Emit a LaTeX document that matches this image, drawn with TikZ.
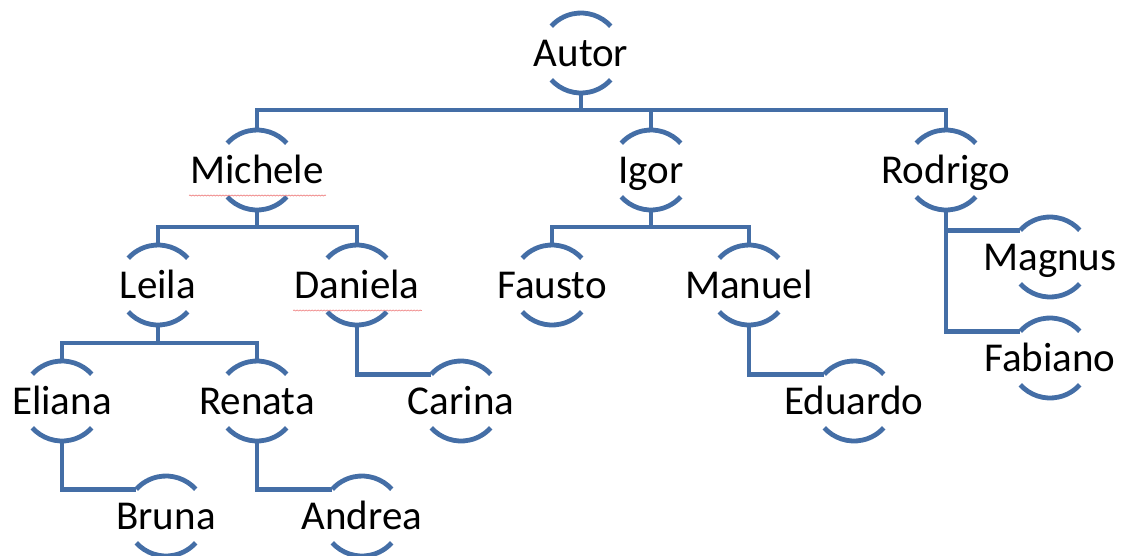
\documentclass[tikz,border=0pt]{standalone}
\usepackage{fontspec}
\setmainfont{Carlito}
\usetikzlibrary{calc,decorations.pathmorphing}
\definecolor{ln}{RGB}{68,110,166}
\definecolor{sq}{RGB}{240,140,140}
\begin{document}
\begin{tikzpicture}[x=1pt,y=-1pt,
 person/.style={inner sep=0pt, text height=37pt, text depth=10pt, font=\fontsize{41}{49}\selectfont},
 conn/.style={draw=ln, line width=4.6pt, line join=miter},
 ring/.style={draw=ln, line width=4.8pt},
 squig/.style={draw=sq, line width=0.8pt, decorate, decoration={snake, amplitude=0.5pt, segment length=3pt}}]
\useasboundingbox (0,0) rectangle (1122,555);

\node[person] (autor) at (581,53) {Autor};
\node[person] (michele) at (257,170) {Michele};
\node[person] (igor) at (651,170) {Igor};
\node[person] (rodrigo) at (946,170) {Rodrigo};
\node[person] (leila) at (158,285) {Leila};
\node[person] (daniela) at (357,285) {Daniela};
\node[person] (fausto) at (552,285) {Fausto};
\node[person] (manuel) at (749,285) {Manuel};
\node[person] (magnus) at (1050,257) {Magnus};
\node[person] (fabiano) at (1050,358) {Fabiano};
\node[person] (eliana) at (62,401) {Eliana};
\node[person] (renata) at (257,401) {Renata};
\node[person] (carina) at (461,401) {Carina};
\node[person] (eduardo) at (854,401) {Eduardo};
\node[person] (bruna) at (166,516) {Bruna};
\node[person] (andrea) at (362,516) {Andrea};

\foreach \n in {autor,michele,igor,rodrigo,leila,daniela,fausto,manuel,magnus,fabiano,eliana,renata,carina,eduardo,bruna,andrea}{
  \draw[ring] ([shift={(42:40pt)}]\n.center) arc[start angle=42,end angle=138,radius=40pt];
  \draw[ring] ([shift={(222:40pt)}]\n.center) arc[start angle=222,end angle=318,radius=40pt];
}

% Autor level
\coordinate (b1) at (0,110);
\draw[conn] ($(autor)+(0,40)$) -- (autor |- b1);
\draw[conn] ($(michele)+(0,-40)$) -- (michele |- b1) -- (rodrigo |- b1) -- ($(rodrigo)+(0,-40)$);
\draw[conn] ($(igor)+(0,-40)$) -- (igor |- b1);

% Michele level
\coordinate (b2) at (0,227);
\draw[conn] ($(michele)+(0,40)$) -- (michele |- b2);
\draw[conn] ($(leila)+(0,-40)$) -- (leila |- b2) -- (daniela |- b2) -- ($(daniela)+(0,-40)$);

% Igor level
\draw[conn] ($(igor)+(0,40)$) -- (igor |- b2);
\draw[conn] ($(fausto)+(0,-40)$) -- (fausto |- b2) -- (manuel |- b2) -- ($(manuel)+(0,-40)$);

% Rodrigo
\coordinate (magend) at ($(magnus)+(138:40pt)$);
\draw[conn] ($(rodrigo)+(0,40)$) |- ($(fabiano)+(138:40pt)$);
\draw[conn] (rodrigo |- magend) -- (magend);

% Leila level
\coordinate (b3) at (0,343);
\draw[conn] ($(leila)+(0,40)$) -- (leila |- b3);
\draw[conn] ($(eliana)+(0,-40)$) -- (eliana |- b3) -- (renata |- b3) -- ($(renata)+(0,-40)$);

% leaves
\draw[conn] ($(daniela)+(0,40)$) |- ($(carina)+(138:40pt)$);
\draw[conn] ($(manuel)+(0,40)$) |- ($(eduardo)+(138:40pt)$);
\draw[conn] ($(eliana)+(0,40)$) |- ($(bruna)+(138:40pt)$);
\draw[conn] ($(renata)+(0,40)$) |- ($(andrea)+(138:40pt)$);

% spell-check underlines
\draw[squig] ($(michele.base west)+(-1,12)$) -- ($(michele.base east)+(2,12)$);
\draw[squig] ($(daniela.base west)+(-1,12)$) -- ($(daniela.base east)+(2,12)$);
\end{tikzpicture}
\end{document}
